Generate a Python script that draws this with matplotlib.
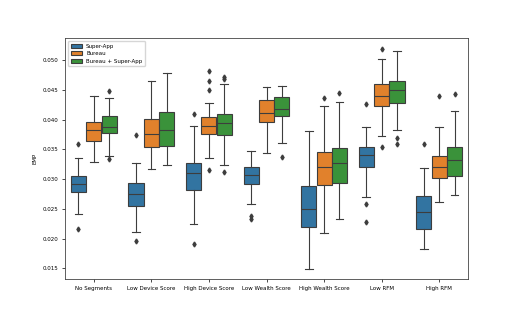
import matplotlib
matplotlib.use("Agg")
import matplotlib.pyplot as plt
from matplotlib.patches import Patch

categories = ["No Segments", "Low Device Score", "High Device Score", "Low Wealth Score",
              "High Wealth Score", "Low RFM", "High RFM"]
series = ["Super-App", "Bureau", "Bureau + Super-App"]

# per series: [whislo, q1, median, q3, whishi] for each category
super_app = [
    [0.02419, 0.02777, 0.02923, 0.03057, 0.03348],
    [0.02111, 0.02553, 0.02744, 0.02928, 0.03264],
    [0.02239, 0.02816, 0.03096, 0.03264, 0.03886],
    [0.02581, 0.02923, 0.03063, 0.03208, 0.03477],
    [0.01495, 0.02200, 0.02503, 0.02884, 0.03813],
    [0.02699, 0.03197, 0.03399, 0.03533, 0.03869],
    [0.01831, 0.02167, 0.02447, 0.02716, 0.03192],
]
super_app_fliers = [
    [0.03583, 0.02156],
    [0.03735, 0.01954],
    [0.04099, 0.01914],
    [0.02385, 0.02329],
    [],
    [0.04261, 0.02587, 0.02273],
    [0.03595],
]
bureau = [
    [0.03281, 0.03634, 0.03824, 0.03964, 0.04395],
    [0.03163, 0.03539, 0.03751, 0.04009, 0.04653],
    [0.03359, 0.03763, 0.03886, 0.04048, 0.04278],
    [0.03432, 0.03958, 0.04110, 0.04322, 0.04541],
    [0.02088, 0.02900, 0.03208, 0.03455, 0.04222],
    [0.03723, 0.04227, 0.04401, 0.04597, 0.05011],
    [0.02609, 0.03018, 0.03208, 0.03393, 0.03880],
]
bureau_fliers = [
    [],
    [],
    [0.04815, 0.04653, 0.04502, 0.03158],
    [],
    [0.04367],
    [0.05185, 0.03544],
    [0.04390],
]
combined = [
    [0.03382, 0.03779, 0.03880, 0.04059, 0.04367],
    [0.03231, 0.03561, 0.03824, 0.04127, 0.04776],
    [0.03236, 0.03735, 0.03936, 0.04099, 0.04591],
    [0.03606, 0.04065, 0.04182, 0.04384, 0.04569],
    [0.02329, 0.02940, 0.03276, 0.03516, 0.04289],
    [0.03819, 0.04272, 0.04490, 0.04642, 0.05146],
    [0.02738, 0.03057, 0.03315, 0.03533, 0.04149],
]
combined_fliers = [
    [0.04485, 0.03337],
    [],
    [0.04720, 0.04690, 0.03124],
    [0.03376],
    [0.04440],
    [0.03690, 0.03595],
    [0.04429],
]

colors = ["#3274a1", "#e1812c", "#3a923a"]
gray = "#3d3d3d"

fig = plt.figure(figsize=(5.2, 3.2), dpi=100)
ax = fig.add_axes([0.125, 0.127, 0.775, 0.754])

all_data = [(super_app, super_app_fliers), (bureau, bureau_fliers), (combined, combined_fliers)]
w = 0.8 / 3
lw = 0.8
for h, (stats5, fl) in enumerate(all_data):
    stats = []
    for i in range(len(categories)):
        lo, q1, med, q3, hi = stats5[i]
        stats.append(dict(whislo=lo, q1=q1, med=med, q3=q3, whishi=hi, fliers=fl[i]))
    positions = [i + (h - 1) * w for i in range(len(categories))]
    ax.bxp(stats, positions=positions, widths=w * 0.98, patch_artist=True, showfliers=True,
           boxprops=dict(facecolor=colors[h], edgecolor=gray, linewidth=lw),
           medianprops=dict(color=gray, linewidth=lw),
           whiskerprops=dict(color=gray, linewidth=lw),
           capprops=dict(color=gray, linewidth=lw),
           flierprops=dict(marker="d", markerfacecolor=gray, markeredgecolor=gray,
                           markersize=2.5, linestyle="none"),
           capwidths=w * 0.5, manage_ticks=False)

ax.set_xlim(-0.5, len(categories) - 0.5)
ax.set_ylim(0.01315, 0.0537)
ax.set_xticks(range(len(categories)))
ax.set_xticklabels(categories)
yt = [0.015, 0.020, 0.025, 0.030, 0.035, 0.040, 0.045, 0.050]
ax.set_yticks(yt)
ax.set_yticklabels([f"{v:.3f}" for v in yt])
ax.tick_params(labelsize=4, width=0.5, length=2.5, pad=2)
ax.set_ylabel("EMP", fontsize=4, labelpad=4)
for s in ax.spines.values():
    s.set_linewidth(0.6)
    s.set_color("#444444")

handles = [Patch(facecolor=c, edgecolor=gray, linewidth=lw, label=l) for c, l in zip(colors, series)]
ax.legend(handles=handles, loc="upper left", fontsize=4, frameon=True, handlelength=2.0,
          borderpad=0.5, labelspacing=0.45, framealpha=0.8, edgecolor="#cccccc", fancybox=True)

fig.savefig("out.png", dpi=100)
